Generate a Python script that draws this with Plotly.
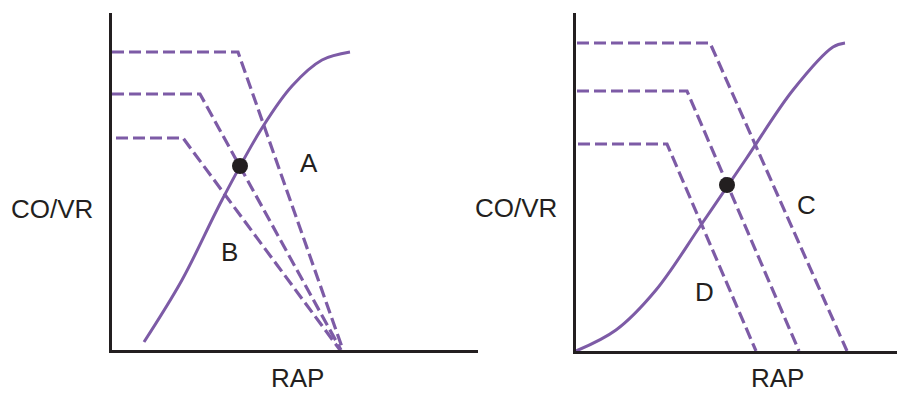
import plotly.graph_objects as go

PURPLE = "#7d5ba6"
AXIS = "#231f20"

# ---- Left panel: x = RAP, y = CO/VR (arbitrary units) ----
left_cardiac_x = [32, 70, 110, 150, 180, 210, 238]
left_cardiac_y = [8, 70, 150, 222, 264, 290, 298]
left_vr_top_x = [0, 126, 231]
left_vr_top_y = [298, 298, 0]
left_vr_mid_x = [0, 88, 229]
left_vr_mid_y = [256, 256, 0]
left_vr_low_x = [4, 71, 228]
left_vr_low_y = [212, 212, 0]
left_point = (128, 184)
left_labels = {"A": (197, 187), "B": (117, 98)}

# ---- Right panel ----
right_cardiac_x = [0, 40, 80, 125, 170, 217, 257, 269]
right_cardiac_y = [0, 21, 61, 126, 192, 261, 304, 308]
right_vr_top_x = [1, 134, 271]
right_vr_top_y = [308, 308, 0]
right_vr_mid_x = [1, 111, 223]
right_vr_mid_y = [260, 260, 0]
right_vr_low_x = [2, 91, 180]
right_vr_low_y = [207, 207, 0]
right_point = (151, 166)
right_labels = {"C": (230, 146), "D": (128, 59)}

y_title = "CO/VR"
x_title = "RAP"

W, H = 897, 394
fig = go.Figure()

def add_panel(xa, ya, cx, cy, vrs, pt):
    fig.add_trace(go.Scatter(x=cx, y=cy, mode="lines",
                             line=dict(color=PURPLE, width=3, shape="spline", smoothing=1.0),
                             xaxis=xa, yaxis=ya, showlegend=False, hoverinfo="skip"))
    for vx, vy in vrs:
        fig.add_trace(go.Scatter(x=vx, y=vy, mode="lines",
                                 line=dict(color=PURPLE, width=3.2, dash="12px,5px"),
                                 xaxis=xa, yaxis=ya, showlegend=False, hoverinfo="skip"))
    fig.add_trace(go.Scatter(x=[pt[0]], y=[pt[1]], mode="markers",
                             marker=dict(color="#231f20", size=16, line=dict(width=0)),
                             xaxis=xa, yaxis=ya, showlegend=False, hoverinfo="skip"))

add_panel("x", "y", left_cardiac_x, left_cardiac_y,
          [(left_vr_top_x, left_vr_top_y), (left_vr_mid_x, left_vr_mid_y), (left_vr_low_x, left_vr_low_y)],
          left_point)
add_panel("x2", "y2", right_cardiac_x, right_cardiac_y,
          [(right_vr_top_x, right_vr_top_y), (right_vr_mid_x, right_vr_mid_y), (right_vr_low_x, right_vr_low_y)],
          right_point)

font = dict(family="Liberation Sans, Arial, sans-serif", size=26, color="#231f20")
ann = []
for t, (x, y) in left_labels.items():
    ann.append(dict(x=x, y=y, xref="x", yref="y", text=t, showarrow=False, font=font))
for t, (x, y) in right_labels.items():
    ann.append(dict(x=x, y=y, xref="x2", yref="y2", text=t, showarrow=False, font=font))

# y titles (horizontal text)
for (px, py) in [(52, 209), (516, 208)]:
    ann.append(dict(x=px / W, y=1 - py / H, xref="paper", yref="paper", text=y_title,
                    showarrow=False, font=font, xanchor="center", yanchor="middle"))
# x titles, anchored to the bottom edge so they stay inside the picture
for px in [297, 777]:
    ann.append(dict(x=px / W, y=0, xref="paper", yref="paper", text=x_title,
                    showarrow=False, font=font, xanchor="center", yanchor="bottom", borderpad=0))

axis_common = dict(showline=True, linecolor=AXIS, linewidth=2.6, showgrid=False, zeroline=False,
                   showticklabels=False, ticks="", fixedrange=True)

fig.update_layout(
    width=W, height=H,
    margin=dict(l=0, r=0, t=0, b=0),
    paper_bgcolor="white", plot_bgcolor="white",
    annotations=ann,
    xaxis=dict(domain=[112 / W, 478 / W], range=[0, 366], anchor="y", **axis_common),
    yaxis=dict(domain=[44 / H, 381 / H], range=[0, 337], anchor="x", **axis_common),
    xaxis2=dict(domain=[576 / W, 1.0], range=[0, 321], anchor="y2", **axis_common),
    yaxis2=dict(domain=[43 / H, 381 / H], range=[0, 338], anchor="x2", **axis_common),
)

fig.write_html("out.html", config={"displayModeBar": False, "staticPlot": True},
               post_script="document.body.style.margin='0';document.body.style.overflow='hidden';")
